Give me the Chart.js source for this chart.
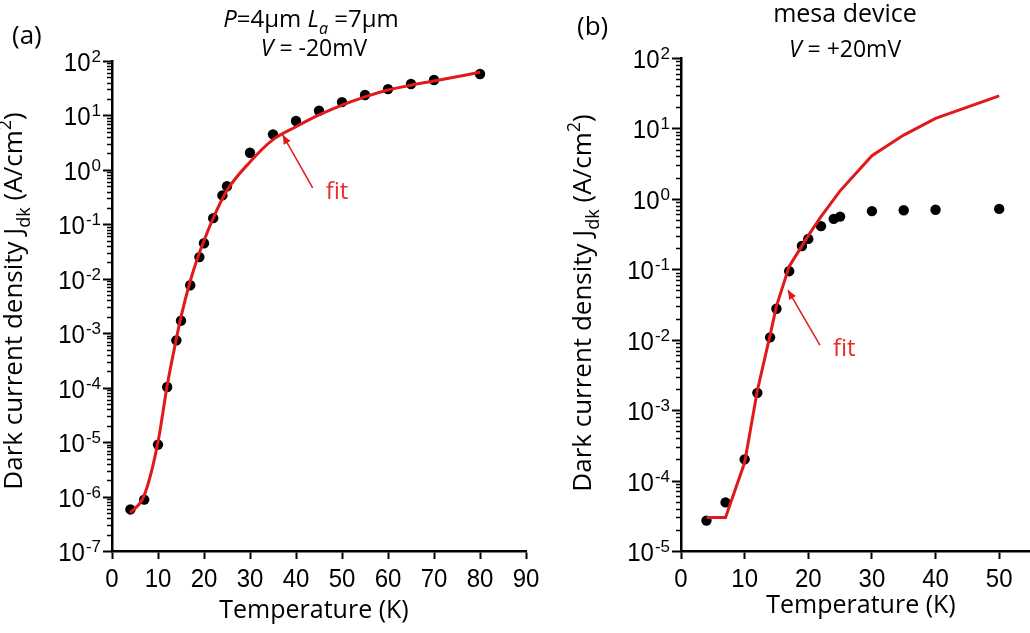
<!DOCTYPE html>
<html>
<head>
<meta charset="utf-8">
<script src="https://cdn.jsdelivr.net/npm/chart.js@4.4.1/dist/chart.umd.min.js"></script>
<style>
html, body { margin: 0; padding: 0; background: #fff; overflow: hidden; width: 1030px; height: 633px; }
#chartA { position: absolute; left: 0; top: 0; }
#chartB { position: absolute; left: 545px; top: 0; }
</style>
</head>
<body>
<canvas id="chartA" width="545" height="633"></canvas>
<canvas id="chartB" width="495" height="633"></canvas>
<script>
// (a) P=4um La=7um, V=-20mV
const tempA = [4, 7, 10, 12, 14, 15, 17, 19, 20, 22, 24, 25, 30, 35, 40, 45, 50, 55, 60, 65, 70, 80];
const jdkA = [5.8e-7, 8.8e-7, 9e-6, 1.03e-4, 7.4e-4, 1.7e-3, 7.6e-3, 0.025, 0.045, 0.13, 0.34, 0.5,
              2.06, 4.5, 7.9, 12.2, 17.6, 23.7, 30.5, 37.8, 44.8, 57.7];
const fitTempA = [4, 7, 10, 12, 14, 15, 17, 19, 20, 22, 25, 30, 35, 40, 45, 50, 55, 60, 65, 70, 80];
const fitJdkA = [5e-7, 1.05e-6, 1e-5, 1.1e-4, 8e-4, 2e-3, 9e-3, 0.03, 0.05, 0.13, 0.42,
                 1.4, 3.6, 6.2, 10.2, 15.5, 22, 29.3, 36, 43, 62];

// (b) mesa device, V=+20mV
const tempB = [4, 7, 10, 12, 14, 15, 17, 19, 20, 22, 24, 25, 30, 35, 40, 50];
const jdkB = [2.7e-5, 4.9e-5, 2.0e-4, 1.76e-3, 0.0108, 0.0275, 0.094, 0.214, 0.27, 0.41, 0.52, 0.56,
              0.67, 0.69, 0.70, 0.72];
const fitTempB = [4, 7, 10, 12, 14, 15, 17, 20, 22, 25, 30, 35, 40, 50];
const fitJdkB = [3e-5, 3e-5, 1.8e-4, 1.9e-3, 0.0116, 0.03, 0.11, 0.3, 0.56, 1.3, 4.1, 8.05, 13.9, 29];

const xTicksA = [0, 90, 10];   // min, max, step
const xTicksB = [0, 55, 10];
const yRangeA = [1e-7, 1e2];
const yRangeB = [1e-5, 1e2];

const RED = '#e01a1a';
const TEXT_RED = '#e42d2d';

function partFont(p, size) {
    const s = (p.sub || p.sup) ? Math.round(size * 0.68) : size;
    return (p.it ? 'italic ' : '') + s + 'px "Open Sans"';
}

function drawRich(ctx, parts, x, y, size, color, angle) {
    ctx.save();
    ctx.translate(x, y);
    if (angle) ctx.rotate(angle);
    ctx.fillStyle = color;
    ctx.textBaseline = 'alphabetic';
    ctx.textAlign = 'left';
    let w = 0;
    parts.forEach(p => { ctx.font = partFont(p, size); p.w = ctx.measureText(p.t).width; w += p.w; });
    let cx = -w / 2;
    parts.forEach(p => {
        ctx.font = partFont(p, size);
        const dy = p.sub ? size * 0.3 : p.sup ? -size * 0.42 : 0;
        ctx.fillText(p.t, cx, dy);
        cx += p.w;
    });
    ctx.restore();
}

function tickText(ctx, text, x, y, align) {
    ctx.save();
    ctx.font = '24px "Liberation Sans", Arial, sans-serif';
    ctx.textAlign = align;
    ctx.textBaseline = 'alphabetic';
    ctx.fillStyle = '#000';
    ctx.translate(x, y);
    ctx.scale(1, 1.1);
    ctx.fillText(text, 0, 0);
    ctx.restore();
}

function drawArrow(ctx, x1, y1, x2, y2) {
    const a = Math.atan2(y2 - y1, x2 - x1);
    ctx.save();
    ctx.strokeStyle = RED;
    ctx.fillStyle = RED;
    ctx.lineWidth = 1.5;
    ctx.beginPath();
    ctx.moveTo(x1, y1);
    ctx.lineTo(x2, y2);
    ctx.stroke();
    ctx.beginPath();
    ctx.moveTo(x2, y2);
    ctx.lineTo(x2 - 10 * Math.cos(a - 0.4), y2 - 10 * Math.sin(a - 0.4));
    ctx.lineTo(x2 - 10 * Math.cos(a + 0.4), y2 - 10 * Math.sin(a + 0.4));
    ctx.closePath();
    ctx.fill();
    ctx.restore();
}

const yTitle = [
    {t: 'Dark current density J'}, {t: 'dk', sub: true},
    {t: ' (A/cm'}, {t: '2', sup: true}, {t: ')'}
];

function decoPlugin(cfg) {
    return {
        id: 'deco',
        afterDraw(chart) {
            const ctx = chart.ctx;
            const xs = chart.scales.x, ys = chart.scales.y;
            const ax = chart.chartArea.left, ab = chart.chartArea.bottom;

            // y ticks: major at decades, minor at 2..9
            ctx.save();
            ctx.strokeStyle = '#000';
            ys.ticks.forEach(t => {
                const v = t.value;
                const e = Math.floor(Math.log10(v) + 1e-9);
                const m = v / Math.pow(10, e);
                if (Math.abs(m - Math.round(m)) > 1e-6) return;
                const major = Math.abs(m - 1) < 1e-6;
                const py = Math.round(ys.getPixelForValue(v)) + 0.5;
                ctx.lineWidth = major ? 2 : 1.5;
                ctx.beginPath();
                ctx.moveTo(ax - (major ? 9 : 5), py);
                ctx.lineTo(ax, py);
                ctx.stroke();
                if (major) {
                    const es = e < 0 ? '-' + (-e) : String(e);
                    ctx.font = '17px "Liberation Sans", Arial, sans-serif';
                    ctx.fillStyle = '#000';
                    ctx.textAlign = 'right';
                    ctx.textBaseline = 'alphabetic';
                    const ew = ctx.measureText(es).width;
                    ctx.fillText(es, ax - 11, py + 0.5);
                    tickText(ctx, '10', ax - 12 - ew, py + 9.5, 'right');
                }
            });
            ctx.restore();

            // x tick labels
            xs.ticks.forEach(t => {
                tickText(ctx, String(t.value), xs.getPixelForValue(t.value), ab + 36, 'center');
            });

            // axis titles
            ctx.save();
            ctx.font = '25px "Open Sans"';
            ctx.fillStyle = '#000';
            ctx.textAlign = 'center';
            ctx.textBaseline = 'alphabetic';
            ctx.fillText('Temperature (K)', cfg.xTitle[0], cfg.xTitle[1]);
            ctx.restore();
            drawRich(ctx, yTitle, cfg.yTitle[0], cfg.yTitle[1], 26, '#000', -Math.PI / 2);

            // panel label and heading
            ctx.save();
            ctx.font = '26px "Open Sans"';
            ctx.fillStyle = '#000';
            ctx.textAlign = 'left';
            ctx.textBaseline = 'middle';
            ctx.fillText(cfg.label, cfg.labelPos[0], cfg.labelPos[1]);
            ctx.restore();
            cfg.heading.forEach(h => drawRich(ctx, h.parts, h.x, h.y, h.size, '#000'));

            // "fit" annotation
            const tx = xs.getPixelForValue(cfg.fit.at[0]);
            const ty = ys.getPixelForValue(cfg.fit.at[1]);
            const lx = tx + cfg.fit.off[0], ly = ty + cfg.fit.off[1];
            drawArrow(ctx, lx, ly, tx, ty);
            ctx.save();
            ctx.font = '24px "Open Sans"';
            ctx.fillStyle = TEXT_RED;
            ctx.textAlign = 'left';
            ctx.textBaseline = 'alphabetic';
            ctx.fillText('fit', lx + 13, ly + 11);
            ctx.restore();
        }
    };
}

function makeChart(id, pts, fit, xr, yr, pad, yWidth, tension, deco) {
    return new Chart(document.getElementById(id), {
        data: {
            datasets: [{
                type: 'line',
                data: fit,
                borderColor: RED,
                borderWidth: 3,
                pointRadius: 0,
                fill: false,
                tension: tension,
                cubicInterpolationMode: tension ? 'monotone' : 'default'
            }, {
                type: 'scatter',
                data: pts,
                backgroundColor: '#000',
                borderWidth: 0,
                pointRadius: 5.2
            }]
        },
        options: {
            responsive: false,
            animation: false,
            events: [],
            layout: { padding: pad },
            plugins: { legend: { display: false }, tooltip: { enabled: false } },
            scales: {
                x: {
                    type: 'linear',
                    min: xr[0], max: xr[1],
                    ticks: { display: false, stepSize: xr[2], includeBounds: false, autoSkip: false },
                    grid: { display: true, drawOnChartArea: false, drawTicks: true, tickLength: 8, tickWidth: 2, tickColor: '#000' },
                    border: { display: true, color: '#000', width: 2.5 },
                    afterFit(s) { s.height = 82; }
                },
                y: {
                    type: 'logarithmic',
                    min: yr[0], max: yr[1],
                    ticks: { display: false },
                    grid: { display: false },
                    border: { display: true, color: '#000', width: 2.5 },
                    afterFit(s) { s.width = yWidth; }
                }
            }
        },
        plugins: [decoPlugin(deco)]
    });
}

const ptsA = tempA.map((t, i) => ({x: t, y: jdkA[i]}));
const fitA = fitTempA.map((t, i) => ({x: t, y: fitJdkA[i]}));
const ptsB = tempB.map((t, i) => ({x: t, y: jdkB[i]}));
const fitB = fitTempB.map((t, i) => ({x: t, y: fitJdkB[i]}));

makeChart('chartA', ptsA, fitA, xTicksA, yRangeA, {left: 0, right: 19, top: 61, bottom: 0}, 112, 0.4, {
    xTitle: [314, 618],
    yTitle: [22, 301],
    label: '(a)', labelPos: [12, 37],
    heading: [
        {x: 311, y: 27, size: 24, parts: [{t: 'P', it: true}, {t: '=4\u00b5m '}, {t: 'L', it: true}, {t: 'a', it: true, sub: true}, {t: ' =7\u00b5m'}]},
        {x: 314, y: 56, size: 23, parts: [{t: 'V', it: true}, {t: ' = -20mV'}]}
    ],
    fit: {at: [37.1, 4.4], off: [30, 53]}
});

makeChart('chartB', ptsB, fitB, xTicksB, yRangeB, {left: 0, right: 9, top: 58, bottom: 0}, 136, 0, {
    xTitle: [861 - 545, 613],
    yTitle: [591 - 545, 303],
    label: '(b)', labelPos: [577 - 545, 28],
    heading: [
        {x: 845 - 545, y: 22, size: 25, parts: [{t: 'mesa device'}]},
        {x: 845 - 545, y: 57, size: 23, parts: [{t: 'V', it: true}, {t: ' = +20mV'}]}
    ],
    fit: {at: [16.8, 0.0507], off: [32, 55]}
});
</script>
</body>
</html>
